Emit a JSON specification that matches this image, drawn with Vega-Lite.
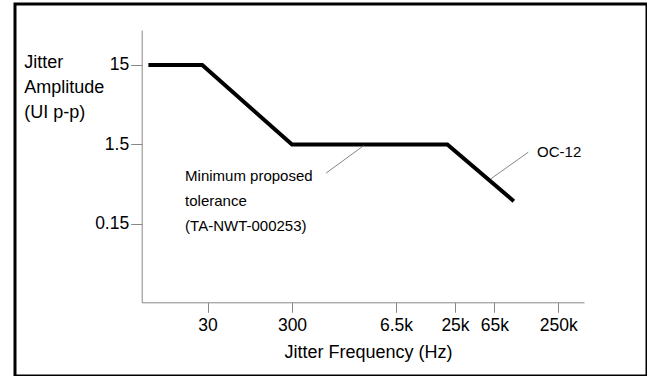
{
  "$schema": "https://vega.github.io/schema/vega-lite/v6.json",
  "width": 632,
  "height": 372,
  "autosize": {"type": "none"},
  "padding": {"left": 15, "top": 4, "right": 0, "bottom": 0},
  "background": "white",
  "config": {
    "view": {"stroke": "black", "strokeWidth": 3},
    "font": "Liberation Sans",
    "axis": {"grid": false}
  },
  "datasets": {
    "mask": [
      {"freq": 6, "amp": 15},
      {"freq": 26, "amp": 15},
      {"freq": 300, "amp": 1.5},
      {"freq": 21000, "amp": 1.5},
      {"freq": 98000, "amp": 0.29}
    ],
    "leaders": [
      {"freq": 820, "amp": 0.653, "freq2": 2525, "amp2": 1.46},
      {"freq": 60000, "amp": 0.556, "freq2": 133000, "amp2": 1.2}
    ],
    "notes": [
      {"freq": 16.3, "amp": 0.518, "label": "Minimum proposed\ntolerance\n(TA-NWT-000253)"},
      {"freq": 160000, "amp": 1.047, "label": "OC-12"}
    ]
  },
  "encoding": {
    "x": {
      "field": "freq",
      "type": "quantitative",
      "scale": {
        "type": "log",
        "domain": [5, 30, 300, 6500, 25000, 65000, 250000, 430000],
        "range": [126.7, 192.5, 277, 381, 440, 479.3, 543.3, 569],
        "nice": false,
        "zero": false
      },
      "axis": {
        "title": "Jitter Frequency (Hz)",
        "values": [30, 300, 6500, 25000, 65000, 250000],
        "format": "~s",
        "offset": -73.7,
        "domainColor": "#888888",
        "tickColor": "#888888",
        "tickSize": 10,
        "labelPadding": 4,
        "labelFontSize": 17.5,
        "labelColor": "black",
        "labelFlush": false,
        "labelOverlap": false,
        "titleFontSize": 18,
        "titleFontWeight": "normal",
        "titleColor": "black",
        "titleX": 353,
        "titleY": 55,
        "titleAlign": "center",
        "titleBaseline": "alphabetic"
      }
    },
    "y": {
      "field": "amp",
      "type": "quantitative",
      "scale": {
        "type": "log",
        "domain": [0.0155, 41.3],
        "range": [298.3, 26],
        "nice": false,
        "zero": false
      },
      "axis": {
        "title": ["Jitter", "Amplitude", "(UI p-p)"],
        "values": [0.15, 1.5, 15],
        "format": "~g",
        "offset": -126.7,
        "domainColor": "#888888",
        "tickColor": "#888888",
        "tickSize": 11,
        "labelPadding": 2,
        "labelFontSize": 17.5,
        "labelColor": "black",
        "labelFlush": false,
        "labelOverlap": false,
        "titleFontSize": 18,
        "titleFontWeight": "normal",
        "titleColor": "black",
        "titleAngle": 0,
        "titleAlign": "left",
        "titleBaseline": "alphabetic",
        "titleX": -118,
        "titleY": 63,
        "titleLineHeight": 25
      }
    }
  },
  "layer": [
    {
      "data": {"name": "mask"},
      "mark": {"type": "line", "color": "black", "strokeWidth": 4, "strokeJoin": "miter", "strokeCap": "butt"}
    },
    {
      "data": {"name": "leaders"},
      "mark": {"type": "rule", "color": "#666666", "strokeWidth": 0.8},
      "encoding": {
        "x2": {"field": "freq2"},
        "y2": {"field": "amp2"}
      }
    },
    {
      "data": {"name": "notes"},
      "mark": {"type": "text", "align": "left", "baseline": "alphabetic", "fontSize": 15, "lineHeight": 24.7, "lineBreak": "\n", "color": "black"},
      "encoding": {
        "text": {"field": "label", "type": "nominal"}
      }
    }
  ]
}
